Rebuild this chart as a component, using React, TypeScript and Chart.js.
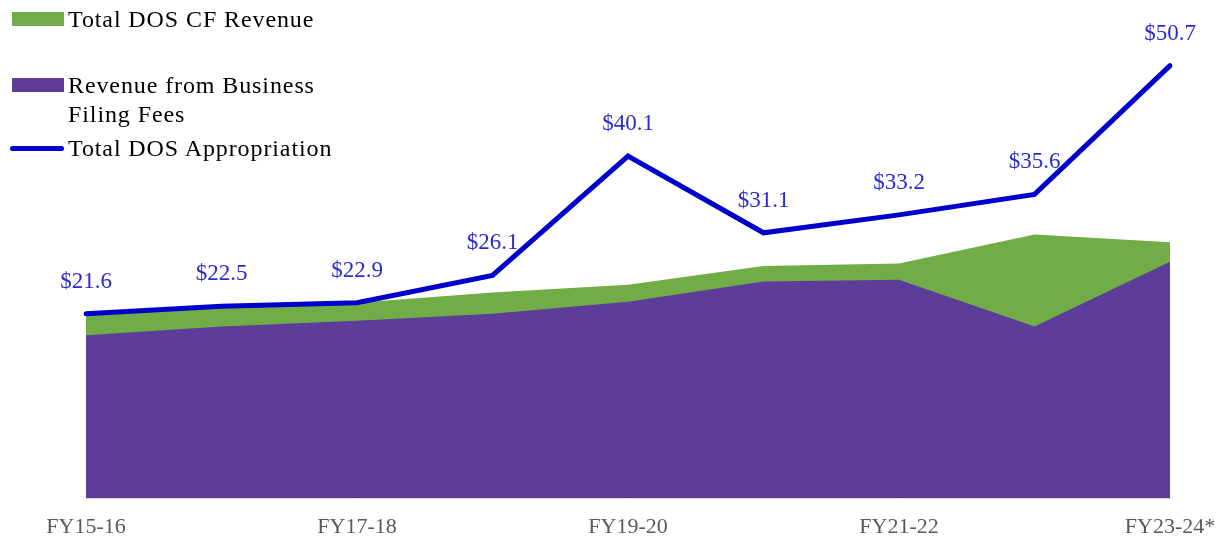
import React, { useEffect, useRef } from "react";
import { Chart, registerables } from "chart.js";

Chart.register(...registerables);

const categories = ["FY15-16", "FY16-17", "FY17-18", "FY18-19", "FY19-20", "FY20-21", "FY21-22", "FY22-23", "FY23-24*"];
const cfRevenue = [21.4, 22.3, 22.9, 24.1, 25.0, 27.2, 27.5, 30.9, 30.0];
const filingFees = [19.1, 20.1, 20.8, 21.6, 23.0, 25.4, 25.6, 20.1, 27.7];
const appropriation = [21.6, 22.5, 22.9, 26.1, 40.1, 31.1, 33.2, 35.6, 50.7];

const SERIF = "'Liberation Serif', 'Times New Roman', serif";

const labelPlugin = {
  id: "pointLabels",
  afterDatasetsDraw(chart: any) {
    const meta = chart.getDatasetMeta(2);
    const ctx = chart.ctx;
    ctx.save();
    ctx.font = `23px ${SERIF}`;
    ctx.fillStyle = "#2B2BD0";
    ctx.textAlign = "center";
    ctx.textBaseline = "middle";
    meta.data.forEach((pt: any, i: number) => {
      ctx.fillText("$" + appropriation[i].toFixed(1), pt.x, pt.y - 32);
    });
    ctx.restore();
  },
};

export default function App() {
  const ref = useRef<HTMLCanvasElement | null>(null);
  useEffect(() => {
    if (!ref.current) return;
    const chart = new Chart(ref.current, {
      type: "line",
      data: {
        labels: categories,
        datasets: [
          {
            label: "Total DOS CF Revenue",
            data: cfRevenue,
            backgroundColor: "#70AD47",
            borderWidth: 0,
            pointRadius: 0,
            fill: "origin",
            tension: 0,
            order: 3,
          },
          {
            label: "Revenue from Business Filing Fees",
            data: filingFees,
            backgroundColor: "#5E3C99",
            borderWidth: 0,
            pointRadius: 0,
            fill: "origin",
            tension: 0,
            order: 2,
          },
          {
            label: "Total DOS Appropriation",
            data: appropriation,
            borderColor: "#0000CC",
            borderWidth: 5,
            borderCapStyle: "round",
            borderJoinStyle: "miter",
            pointRadius: 0,
            fill: false,
            tension: 0,
            order: 1,
          },
        ],
      },
      options: {
        animation: false,
        responsive: true,
        maintainAspectRatio: false,
        layout: { padding: { left: 86, right: 52, top: 0, bottom: 0 } },
        plugins: { legend: { display: false }, tooltip: { enabled: false } },
        scales: {
          x: {
            offset: false,
            grid: { display: false, drawTicks: false },
            border: { display: true, color: "#D9D9D9", width: 1 },
            afterFit: (scale: any) => {
              scale.height = 38;
              scale.paddingLeft = 0;
              scale.paddingRight = 0;
            },
            ticks: {
              autoSkip: false,
              maxRotation: 0,
              padding: 16,
              color: "#595959",
              font: { family: SERIF, size: 22 },
              callback: (_v: any, i: number) => (i % 2 === 0 ? categories[i] : ""),
            },
          },
          y: {
            display: false,
            min: 0,
            max: 58.4,
          },
        },
      },
      plugins: [labelPlugin],
    });
    return () => chart.destroy();
  }, []);

  const legendText: React.CSSProperties = {
    fontFamily: SERIF,
    fontSize: 24,
    letterSpacing: "0.9px",
    color: "#000",
    lineHeight: "29px",
    whiteSpace: "nowrap",
  };

  return (
    <div style={{ position: "fixed", left: 0, top: 0, width: 1222, height: 536, background: "#fff" }}>
      <canvas ref={ref} />
      <div style={{ position: "absolute", left: 12, top: 12, width: 52, height: 14, background: "#70AD47" }} />
      <div style={{ ...legendText, position: "absolute", left: 68, top: 5 }}>Total DOS CF Revenue</div>
      <div style={{ position: "absolute", left: 12, top: 78, width: 52, height: 14, background: "#5E3C99" }} />
      <div style={{ ...legendText, position: "absolute", left: 68, top: 71 }}>
        Revenue from Business
        <br />
        Filing Fees
      </div>
      <div style={{ position: "absolute", left: 10, top: 146, width: 54, height: 5, borderRadius: 3, background: "#0000CC" }} />
      <div style={{ ...legendText, position: "absolute", left: 68, top: 134 }}>Total DOS Appropriation</div>
    </div>
  );
}
